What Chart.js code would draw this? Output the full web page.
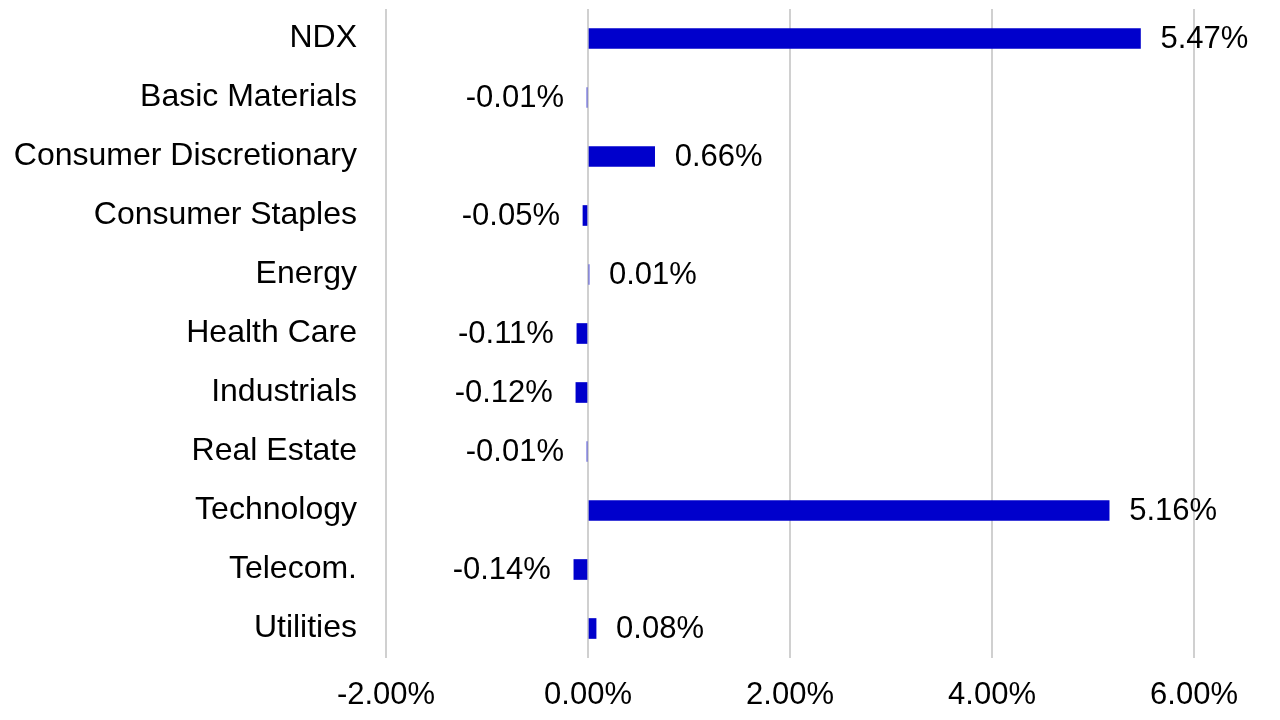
<!DOCTYPE html>
<html>
<head>
<meta charset="utf-8">
<script src="https://cdn.jsdelivr.net/npm/chart.js@4.4.1/dist/chart.umd.min.js"></script>
<style>
  html, body { margin: 0; padding: 0; background: #fff; }
  #wrap { width: 1280px; height: 720px; }
</style>
</head>
<body>
<div id="wrap"><canvas id="attribution"></canvas></div>
<script>
const sectors = ["NDX", "Basic Materials", "Consumer Discretionary", "Consumer Staples", "Energy",
  "Health Care", "Industrials", "Real Estate", "Technology", "Telecom.", "Utilities"];
const contribution = [5.47, -0.01, 0.66, -0.05, 0.01, -0.11, -0.12, -0.01, 5.16, -0.14, 0.08];
const xTicks = [-2, 0, 2, 4, 6];

const FONT = "'Liberation Sans', Arial, sans-serif";

// value labels next to each bar end
const barLabels = {
  id: "barLabels",
  afterDatasetsDraw(chart) {
    const ctx = chart.ctx;
    const meta = chart.getDatasetMeta(0);
    ctx.save();
    ctx.font = "31px " + FONT;
    ctx.fillStyle = "#000";
    ctx.textBaseline = "middle";
    meta.data.forEach((bar, i) => {
      const v = contribution[i];
      const txt = v.toFixed(2) + "%";
      if (v < 0) {
        ctx.textAlign = "right";
        ctx.fillText(txt, bar.x - 23, bar.y + 1);
      } else {
        ctx.textAlign = "left";
        ctx.fillText(txt, bar.x + 20, bar.y + 1);
      }
    });
    ctx.restore();
  }
};

new Chart(document.getElementById("attribution"), {
  type: "bar",
  data: {
    labels: sectors,
    datasets: [{
      data: contribution,
      backgroundColor: "#0000cc",
      barThickness: 20
    }]
  },
  options: {
    indexAxis: "y",
    responsive: true,
    maintainAspectRatio: false,
    animation: false,
    layout: { padding: { top: 9, right: 86, bottom: 0, left: 0 } },
    plugins: { legend: { display: false }, tooltip: { enabled: false } },
    scales: {
      x: {
        min: -2,
        max: 6,
        afterBuildTicks: (axis) => { axis.ticks = xTicks.map(v => ({ value: v })); },
        afterFit: (axis) => { axis.height = 62; },
        grid: { color: "#d0d0d0", lineWidth: 2, drawTicks: false },
        border: { display: false },
        ticks: {
          color: "#000",
          font: { family: FONT, size: 31 },
          padding: 19,
          callback: (v) => v.toFixed(2) + "%"
        }
      },
      y: {
        afterFit: (axis) => {
          axis.width = 386;
          axis.paddingTop = 0;
          axis.paddingBottom = 0;
        },
        grid: { display: false },
        border: { display: false },
        ticks: {
          color: "#000",
          font: { family: FONT, size: 32 },
          padding: 21
        }
      }
    }
  },
  plugins: [barLabels]
});
</script>
</body>
</html>
